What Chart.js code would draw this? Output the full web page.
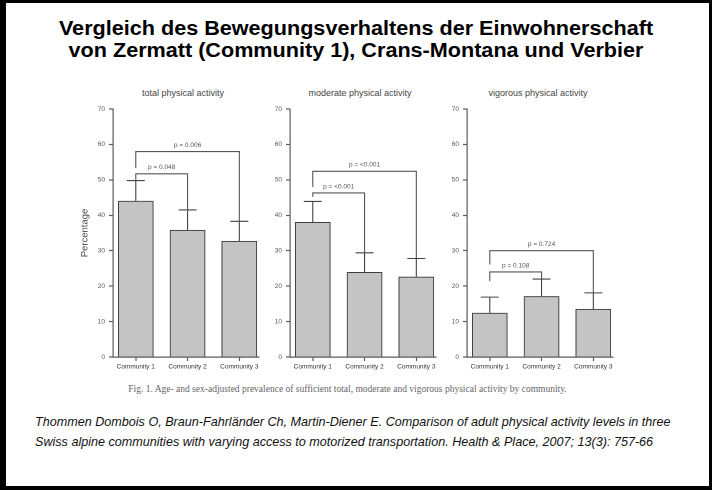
<!DOCTYPE html>
<html lang="de">
<head>
<meta charset="utf-8">
<title>Bewegungsverhalten</title>
<script src="https://cdn.jsdelivr.net/npm/chart.js@4.4.8/dist/chart.umd.min.js"></script>
<style>
  html, body { margin: 0; padding: 0; background: #fff; }
  #slide { position: relative; width: 712px; height: 490px; overflow: hidden; background: #fff; }
  #frame { position: absolute; left: 0; top: 0; width: 712px; height: 490px; box-sizing: border-box;
           border-style: solid; border-color: #000; border-width: 3px 3px 4px 6px; pointer-events: none; }
  #title { position: absolute; left: 0; width: 712px; top: 17px; text-align: center;
           font: bold 20px/22px "Liberation Sans", Arial, sans-serif; color: #000;
           transform: scaleX(1.08); transform-origin: 356px 0; }
  .ptitle { position: absolute; top: 87px; width: 160px; margin-left: -80px; text-align: center;
            font: 9px/12px "Liberation Sans", Arial, sans-serif; color: #444; }
  .panel { position: absolute; top: 100px; width: 210px; height: 280px; }
  #caption { position: absolute; left: 0; width: 695px; top: 384px; text-align: center;
             font: 9.5px/11px "Liberation Serif", "Times New Roman", serif; color: #666; }
  #cite { position: absolute; left: 35px; top: 412px; width: 675px;
          font: italic 12.6px/20px "Liberation Sans", Arial, sans-serif; color: #111; }
</style>
</head>
<body>
<div id="slide">
  <div id="title">Vergleich des Bewegungsverhaltens der Einwohnerschaft<br>von Zermatt (Community 1), Crans-Montana und Verbier</div>

  <div class="ptitle" style="left:183px">total physical activity</div>
  <div class="ptitle" style="left:360px">moderate physical activity</div>
  <div class="ptitle" style="left:538px">vigorous physical activity</div>

  <div class="panel" style="left:60px"><canvas id="c1"></canvas></div>
  <div class="panel" style="left:237px"><canvas id="c2"></canvas></div>
  <div class="panel" style="left:414px"><canvas id="c3"></canvas></div>

  <div id="caption">Fig. 1. Age- and sex-adjusted prevalence of sufficient total, moderate and vigorous physical activity by community.</div>
  <div id="cite">Thommen Dombois O, Braun-Fahrländer Ch, Martin-Diener E. Comparison of adult physical activity levels in three<br>Swiss alpine communities with varying access to motorized transportation. Health &amp; Place, 2007; 13(3): 757-66</div>
  <div id="frame"></div>
</div>

<script>
// Daten
const categories = ['Community 1', 'Community 2', 'Community 3'];
const yMin = 0, yMax = 70, yStep = 10;

const totalMean = [44.0, 35.8, 32.7];
const totalUpper = [49.8, 41.5, 38.3];
const moderateMean = [38.0, 23.9, 22.6];
const moderateUpper = [43.9, 29.4, 27.8];
const vigorousMean = [12.4, 17.1, 13.5];
const vigorousUpper = [16.9, 22.0, 18.1];

// Signifikanz-Klammern: von/bis Kategorie, Höhe, unteres Ende links, Beschriftung
const totalP = [
    { from: 1, to: 2, level: 51.7, leftEnd: 50.0, label: 'p = 0.048' },
    { from: 1, to: 3, level: 58.0, leftEnd: 53.3, label: 'p = 0.006' }
];
const moderateP = [
    { from: 1, to: 2, level: 46.3, leftEnd: 45.2, label: 'p = <0.001' },
    { from: 1, to: 3, level: 52.4, leftEnd: 48.0, label: 'p = <0.001' }
];
const vigorousP = [
    { from: 1, to: 2, level: 24.0, leftEnd: 21.4, label: 'p = 0.108' },
    { from: 1, to: 3, level: 30.0, leftEnd: 26.1, label: 'p = 0.724' }
];

const axisColor = '#5a5a5a';
const lineColor = '#444';
const textColor = '#555';
const fontFamily = '"Liberation Sans", Arial, sans-serif';

// Fehlerbalken und p-Wert-Klammern
const errorPlugin = {
    id: 'errorBrackets',
    afterDatasetsDraw(chart, args, opts) {
        const ctx = chart.ctx;
        const x = chart.scales.x, y = chart.scales.y;
        ctx.save();
        ctx.strokeStyle = lineColor;
        ctx.lineWidth = 1.1;
        opts.mean.forEach((m, i) => {
            const px = x.getPixelForValue(i + 1);
            ctx.beginPath();
            ctx.moveTo(px, y.getPixelForValue(m));
            ctx.lineTo(px, y.getPixelForValue(opts.upper[i]));
            ctx.moveTo(px - 9, y.getPixelForValue(opts.upper[i]));
            ctx.lineTo(px + 9, y.getPixelForValue(opts.upper[i]));
            ctx.stroke();
        });
        ctx.strokeStyle = '#555';
        ctx.fillStyle = textColor;
        ctx.font = '6.5px ' + fontFamily;
        ctx.textAlign = 'center';
        ctx.textBaseline = 'middle';
        opts.brackets.forEach(b => {
            const xa = x.getPixelForValue(b.from);
            const xb = x.getPixelForValue(b.to);
            const yl = y.getPixelForValue(b.level);
            ctx.beginPath();
            ctx.moveTo(xa, y.getPixelForValue(b.leftEnd));
            ctx.lineTo(xa, yl);
            ctx.lineTo(xb, yl);
            ctx.lineTo(xb, y.getPixelForValue(opts.upper[b.to - 1]));
            ctx.stroke();
            ctx.fillText(b.label, (xa + xb) / 2, yl - 6.5);
        });
        ctx.restore();
    }
};

function makePanel(id, mean, upper, brackets, showTitle) {
    const ctx = document.getElementById(id).getContext('2d');
    return new Chart(ctx, {
        type: 'bar',
        data: {
            datasets: [{
                data: mean.map((v, i) => ({ x: i + 1, y: v })),
                backgroundColor: '#c4c4c4',
                borderColor: '#3c3c3c',
                borderWidth: 1,
                borderSkipped: 'bottom',
                barThickness: 35
            }]
        },
        options: {
            responsive: false,
            animation: false,
            events: [],
            devicePixelRatio: 2,
            layout: { padding: { top: 9, right: 11, bottom: 0, left: 0 } },
            plugins: {
                legend: { display: false },
                tooltip: { enabled: false },
                errorBrackets: { mean: mean, upper: upper, brackets: brackets }
            },
            scales: {
                x: {
                    type: 'linear',
                    offset: false,
                    min: 0.56,
                    max: 3.38,
                    afterBuildTicks: s => { s.ticks = categories.map((c, i) => ({ value: i + 1 })); },
                    afterFit: s => { s.height = 23; s.paddingLeft = 0; s.paddingRight = 0; },
                    border: { display: true, color: axisColor, width: 1.2 },
                    grid: { offset: false, drawOnChartArea: false, drawTicks: true, tickLength: 4, tickColor: axisColor, tickWidth: 1.2 },
                    ticks: {
                        padding: 2,
                        maxRotation: 0,
                        autoSkip: false,
                        color: '#333',
                        font: { family: fontFamily, size: 6.5 },
                        callback: v => categories[v - 1]
                    }
                },
                y: {
                    min: yMin,
                    max: yMax,
                    afterFit: s => { s.width = 53; },
                    border: { display: true, color: axisColor, width: 1.2 },
                    grid: { drawOnChartArea: false, drawTicks: true, tickLength: 4, tickColor: axisColor, tickWidth: 1.2 },
                    ticks: {
                        stepSize: yStep,
                        padding: 4,
                        color: textColor,
                        font: { family: fontFamily, size: 6.5 }
                    },
                    title: {
                        display: showTitle,
                        text: 'Percentage',
                        color: '#444',
                        font: { family: fontFamily, size: 9.5 },
                        padding: { top: 19, bottom: 0 }
                    }
                }
            }
        },
        plugins: [errorPlugin]
    });
}

// Canvasgröße fest setzen
['c1', 'c2', 'c3'].forEach(id => {
    const c = document.getElementById(id);
    c.style.width = '210px';
    c.style.height = '280px';
    c.width = 210; c.height = 280;
});

makePanel('c1', totalMean, totalUpper, totalP, true);
makePanel('c2', moderateMean, moderateUpper, moderateP, false);
makePanel('c3', vigorousMean, vigorousUpper, vigorousP, false);
</script>
</body>
</html>
